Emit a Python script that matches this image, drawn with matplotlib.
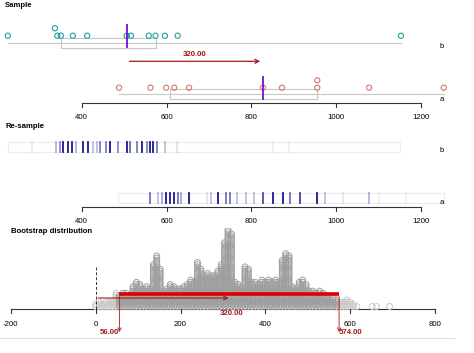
import matplotlib
matplotlib.use("Agg")
import matplotlib.pyplot as plt
import numpy as np

plt.rcParams['font.family'] = ['Liberation Sans', 'DejaVu Sans']

# sample values
group_b = [226, 337, 342.5, 351, 379, 413, 506, 516, 558, 574, 596, 626, 1152]
group_a = [488, 562, 599, 618, 653, 827, 872, 955, 955, 1077, 1253]
box_b = (351, 574)
box_a = (609, 955)
group_names = ['b', 'a']

# re-sample strip lines (value, intensity)
resamp_b = [282, 339.5, 349, 357, 367, 376, 386.6, 404, 414, 426, 435, 443, 457, 467,
            486, 506, 514, 531, 541, 553, 561, 569, 577, 596, 624, 850, 889]
weight_b = [0.08, 0.3, 0.45, 0.9, 0.9, 0.9, 0.3, 0.9, 0.9, 0.25, 0.25, 0.5, 0.5, 0.9,
            0.45, 0.9, 0.6, 0.5, 0.9, 0.5, 0.9, 0.9, 0.5, 0.25, 0.12, 0.06, 0.06]
resamp_a = [561, 580, 588, 599, 608, 617, 626, 634, 653, 694, 705, 722, 740, 749,
            765, 787, 806, 826, 850, 873.5, 891, 914, 954, 974, 1015.5, 1076, 1101.5, 1165]
weight_a = [0.55, 0.25, 0.35, 0.9, 0.9, 0.9, 0.55, 0.35, 0.9, 0.12, 0.25, 0.9, 0.55, 0.55,
            0.25, 0.25, 0.25, 0.7, 0.9, 0.9, 0.55, 0.75, 0.9, 0.25, 0.1, 0.3, 0.06, 0.06]
strip_b = (226, 1151)
strip_a = (486, 1253)

# bootstrap distribution: dot counts per bin
boot_bins = list(range(0, 624, 8))
boot_counts = [2, 3, 2, 3, 3, 3, 7,
               6, 7, 7, 6, 10, 12, 11, 9, 10, 9, 20, 24, 18, 8, 9, 11, 10, 9, 9, 10,
               11, 13, 12, 21, 18, 15, 16, 15, 15, 17, 20, 30, 36, 34, 12, 11, 10, 19,
               18, 12, 12, 11, 13, 12, 13, 12, 13, 12, 22, 25, 24, 10, 9, 12, 13, 11,
               8, 8, 7, 8, 7, 6, 5, 5, 4,
               3, 3, 4, 3, 2, 1]
boot_outliers = [652, 662, 693]
ci = (56, 574)
diff = 320

teal = '#1f9e9a'
salmon = '#d8766c'
purple = '#7a1fd6'
darkred = '#a31616'
boxgray = '#c8c8c8'
fs = 5.6

fig = plt.figure(figsize=(4.74, 3.53), dpi=100)

# ---- Sample + Re-sample panels (shared scale) ----
ax1 = fig.add_axes([0, (353 - 228) / 353, 1, 228 / 353])
ax1.set_xlim(207.5, 1324.2)
ax1.set_ylim(228, 0)
ax1.axis('off')

ax1.text(220, 5.7, 'Sample', fontsize=fs, fontweight='bold', va='center', ha='left')

# group b
ax1.plot([min(group_b), max(group_b)], [42.7, 42.7], color=boxgray, lw=0.8)
ax1.plot([box_b[0], box_b[0], box_b[1], box_b[1], box_b[0]], [38.3, 48.3, 48.3, 38.3, 38.3],
         color=boxgray, lw=0.8)
yb = [35.7] * len(group_b)
yb[1] = 28.3
ax1.scatter(group_b, yb, s=14, facecolors='none', edgecolors=teal, linewidths=0.8, zorder=3)
med_b = np.median(group_b)
ax1.plot([med_b, med_b], [25, 47], color=purple, lw=1.4, zorder=4)

# group a
ax1.plot([min(group_a), max(group_a)], [94.3, 94.3], color=boxgray, lw=0.8)
ax1.plot([box_a[0], box_a[0], box_a[1], box_a[1], box_a[0]], [89.3, 99.3, 99.3, 89.3, 89.3],
         color=boxgray, lw=0.8)
ya = [87.7] * len(group_a)
ya[8] = 80.3
ax1.scatter(group_a, ya, s=14, facecolors='none', edgecolors=salmon, linewidths=0.8, zorder=3)
med_a = np.median(group_a)
ax1.plot([med_a, med_a], [76.7, 99], color=purple, lw=1.4, zorder=4)

# difference arrow
ax1.annotate('', xy=(med_a, 61.3), xytext=(med_b, 61.3),
             arrowprops=dict(arrowstyle='->', color=darkred, lw=0.9, mutation_scale=7))
ax1.text((med_a + med_b) / 2, 54, '%.2f' % diff, color=darkred, fontsize=fs,
         fontweight='bold', ha='center', va='center')

ax1.text(1248, 46.7, group_names[0], fontsize=fs, ha='center', va='center')
ax1.text(1248, 99.3, group_names[1], fontsize=fs, ha='center', va='center')

ticks1 = [400, 600, 800, 1000, 1200]
for yax in (103.3, 207.3):
    ax1.plot([ticks1[0], ticks1[-1]], [yax, yax], color='#333333', lw=0.8)
    for t in ticks1:
        ax1.plot([t, t], [yax, yax + 4], color='#333333', lw=0.8)
        ax1.text(t, yax + 14, str(t), fontsize=fs, ha='center', va='center')

# Re-sample
ax1.text(220, 126.7, 'Re-sample', fontsize=fs, fontweight='bold', va='center', ha='left')
ax1.add_patch(plt.Rectangle((strip_b[0], 141.7), strip_b[1] - strip_b[0], 10,
                            fill=False, ec='#ececf4', lw=0.8))
ax1.add_patch(plt.Rectangle((strip_a[0], 192.7), strip_a[1] - strip_a[0], 10,
                            fill=False, ec='#ececf4', lw=0.8))
for v, w in zip(resamp_b, weight_b):
    ax1.plot([v, v], [141.9, 151.5], color='#000080', alpha=w, lw=1.3)
for v, w in zip(resamp_a, weight_a):
    ax1.plot([v, v], [192.9, 202.5], color='#000080', alpha=w, lw=1.3)
ax1.text(1248, 150, group_names[0], fontsize=fs, ha='center', va='center')
ax1.text(1248, 202, group_names[1], fontsize=fs, ha='center', va='center')

# ---- Bootstrap distribution ----
ax2 = fig.add_axes([0, 0, 1, 125 / 353])
ax2.set_xlim(-225.7, 892.2)
ax2.set_ylim(353, 228)
ax2.axis('off')

ax2.text(-199.7, 231, 'Bootstrap distribution', fontsize=fs, fontweight='bold',
         va='center', ha='left')

xs_in, ys_in, xs_out, ys_out = [], [], [], []
for c, n in zip(boot_bins, boot_counts):
    for k in range(n):
        if ci[0] <= c <= ci[1]:
            xs_in.append(c); ys_in.append(306.5 - 2.2 * k)
        else:
            xs_out.append(c); ys_out.append(306.5 - 2.2 * k)
for v in boot_outliers:
    xs_out.append(v); ys_out.append(306.5)
ax2.scatter(xs_out, ys_out, s=18, facecolors='none', edgecolors='#c8c8c8', linewidths=0.7, zorder=2)
ax2.scatter(xs_in, ys_in, s=18, facecolors='none', edgecolors='#9e9e9e', linewidths=0.7, zorder=2)

ticks2 = [-200, 0, 200, 400, 600, 800]
ax2.plot([ticks2[0], ticks2[-1]], [309.3, 309.3], color='#333333', lw=0.8, zorder=1)
for t in ticks2:
    ax2.plot([t, t], [309.3, 313.3], color='#333333', lw=0.8)
    ax2.text(t, 324, str(t), fontsize=fs, ha='center', va='center')

ax2.plot([0, 0], [266.7, 309.3], color='#333333', lw=0.7, ls=(0, (3, 2)))

ax2.plot([ci[0], ci[1]], [293.7, 293.7], color='#e00000', lw=2.6, zorder=4, solid_capstyle='butt')
for x0 in ci:
    ax2.annotate('', xy=(x0, 335), xytext=(x0, 293.7),
                 arrowprops=dict(arrowstyle='->', color='#b03030', lw=0.7, mutation_scale=6),
                 zorder=4)
ax2.text(ci[0], 332, '%.2f' % ci[0], color=darkred, fontsize=fs, fontweight='bold',
         ha='right', va='center')
ax2.text(ci[1], 332, '%.2f' % ci[1], color=darkred, fontsize=fs, fontweight='bold',
         ha='left', va='center')

ax2.annotate('', xy=(diff, 298), xytext=(0, 298),
             arrowprops=dict(arrowstyle='->', color=darkred, lw=0.8, mutation_scale=7), zorder=5)
ax2.text(diff, 313.7, '%.2f' % diff, color=darkred, fontsize=fs, fontweight='bold',
         ha='center', va='center')

ax2.plot([-225.7, 844], [337.7, 337.7], color='#dddddd', lw=0.8)

fig.savefig('out.png', dpi=100)
